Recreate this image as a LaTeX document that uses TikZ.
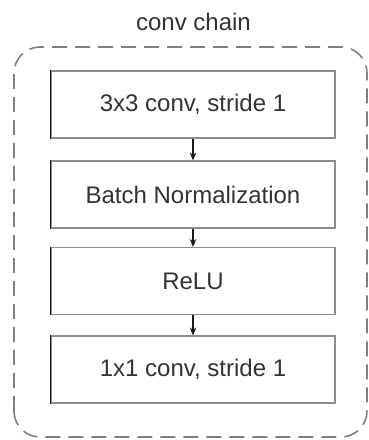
\documentclass[tikz,border=0pt]{standalone}
\usepackage{fontspec}
\setmainfont{Liberation Sans}
\usetikzlibrary{arrows.meta}
\begin{document}
\begin{tikzpicture}[x=1pt,y=1pt,
  layer/.style={draw=black!45, line width=1.1pt, minimum width=284pt, minimum height=67pt, inner sep=0pt, font=\fontsize{24}{28}\selectfont, text=black!80},
  edge/.style={draw=black!90, line width=1.3pt},
  flow/.style={-{Stealth[length=8pt,width=6.5pt]}, line width=1.1pt, black!90},
  frame/.style={draw=black!50, line width=1.6pt, dash pattern=on 15pt off 8pt, rounded corners=26pt}]
\useasboundingbox (0,0) rectangle (369,440);
\draw[frame] (14,3) rectangle (367,393);
\node[font=\fontsize{24}{28}\selectfont, text=black!80] (title) at (193.5,418) {conv chain};
\node[layer] (c3) at (193,335.5) {3x3 conv, stride 1};
\node[layer] (bn) at (193,245.5) {Batch Normalization};
\node[layer] (relu) at (193,159) {ReLU};
\node[layer] (c1) at (193,70.5) {1x1 conv, stride 1};
\foreach \n in {c3,bn,relu,c1} \draw[edge] (\n.north west) -- (\n.south west);
\draw[flow] (c3) -- (bn);
\draw[flow] (bn) -- (relu);
\draw[flow] (relu) -- (c1);
\end{tikzpicture}
\end{document}
